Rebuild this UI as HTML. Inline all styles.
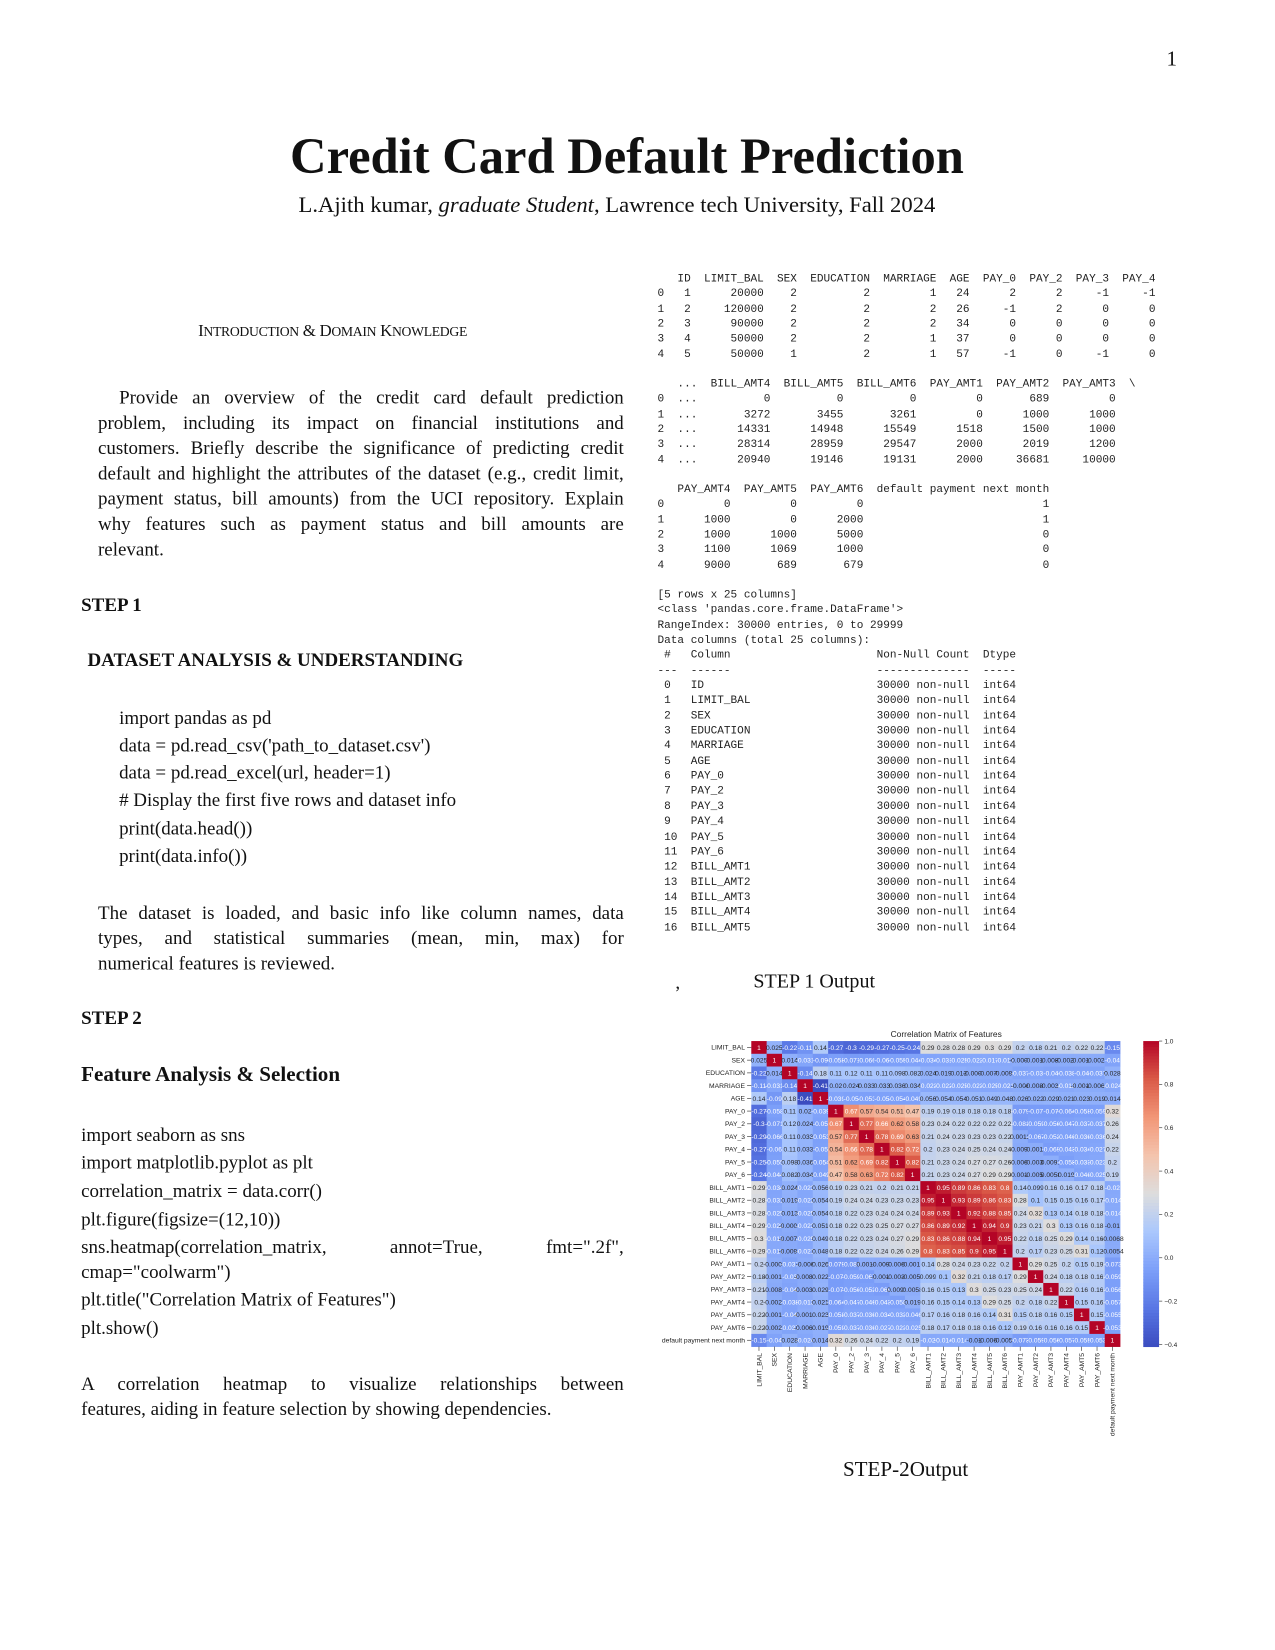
<!DOCTYPE html>
<html><head><meta charset="utf-8">
<style>
html,body{margin:0;padding:0;background:#fff;}
body{width:1275px;height:1650px;overflow:hidden;position:relative;}
#page{position:absolute;left:0;top:0;width:1210px;height:1566px;transform:scale(1.0537);transform-origin:0 0;font-family:"Liberation Serif",serif;color:#111;}
.t{position:absolute;white-space:nowrap;}
.j{position:absolute;text-align:justify;text-align-last:justify;white-space:nowrap;font-size:18px;line-height:24px;}
.body{font-size:18px;line-height:24px;}
pre{position:absolute;margin:0;font-family:"Liberation Mono",monospace;font-size:10.5px;line-height:14.35px;color:#222;}
</style></head>
<body>
<div id="page">
<div class="t" style="left:1107px;top:45px;font-size:20px;">1</div>
<div class="t" style="left:0;width:1190px;text-align:center;top:121px;font-size:48px;font-weight:bold;">Credit Card Default Prediction</div>
<div class="t" style="left:0;width:1171px;text-align:center;top:182px;font-size:21.5px;">L.Ajith kumar, <i>graduate Student</i>, Lawrence tech University, Fall 2024</div>

<div class="t" style="left:188px;top:306px;font-size:16px;letter-spacing:-0.3px;">I<span style="font-size:13px">NTRODUCTION</span> &amp; D<span style="font-size:13px">OMAIN</span> K<span style="font-size:13px">NOWLEDGE</span></div>

<div>
<div class="j" style="left:113px;width:479px;top:365px;">Provide an overview of the credit card default prediction</div>
<div class="j" style="left:93px;width:499px;top:389px;">problem, including its impact on financial institutions and</div>
<div class="j" style="left:93px;width:499px;top:413px;">customers. Briefly describe the significance of predicting credit</div>
<div class="j" style="left:93px;width:499px;top:437px;">default and highlight the attributes of the dataset (e.g., credit limit,</div>
<div class="j" style="left:93px;width:499px;top:461px;">payment status, bill amounts) from the UCI repository. Explain</div>
<div class="j" style="left:93px;width:499px;top:485px;">why features such as payment status and bill amounts are</div>
<div class="t body" style="left:93px;top:509px;">relevant.</div>
</div>

<div class="t body" style="left:77px;top:562px;font-weight:bold;">STEP 1</div>
<div class="t body" style="left:83px;top:614px;font-weight:bold;">DATASET ANALYSIS &amp; UNDERSTANDING</div>

<div class="body">
<div class="t" style="left:113px;top:669px;">import pandas as pd</div>
<div class="t" style="left:113px;top:695px;">data = pd.read_csv('path_to_dataset.csv')</div>
<div class="t" style="left:113px;top:721px;">data = pd.read_excel(url, header=1)</div>
<div class="t" style="left:113px;top:747px;"># Display the first five rows and dataset info</div>
<div class="t" style="left:113px;top:774px;">print(data.head())</div>
<div class="t" style="left:113px;top:800px;">print(data.info())</div>
</div>

<div>
<div class="j" style="left:93px;width:499px;top:854px;">The dataset is loaded, and basic info like column names, data</div>
<div class="j" style="left:93px;width:499px;top:878px;">types, and statistical summaries (mean, min, max) for</div>
<div class="t body" style="left:93px;top:902px;">numerical features is reviewed.</div>
</div>

<div class="t body" style="left:77px;top:954px;font-weight:bold;">STEP 2</div>
<div class="t" style="left:77px;top:1009px;font-size:20px;font-weight:bold;">Feature Analysis &amp; Selection</div>

<div class="body">
<div class="t" style="left:77px;top:1065px;">import seaborn as sns</div>
<div class="t" style="left:77px;top:1091px;">import matplotlib.pyplot as plt</div>
<div class="t" style="left:77px;top:1118px;">correlation_matrix = data.corr()</div>
<div class="t" style="left:77px;top:1145px;">plt.figure(figsize=(12,10))</div>
<div class="j" style="left:77px;width:515px;top:1171px;">sns.heatmap(correlation_matrix, annot=True, fmt=".2f",</div>
<div class="t" style="left:77px;top:1195px;">cmap="coolwarm")</div>
<div class="t" style="left:77px;top:1221px;">plt.title("Correlation Matrix of Features")</div>
<div class="t" style="left:77px;top:1248px;">plt.show()</div>
</div>

<div>
<div class="j" style="left:77px;width:515px;top:1301px;">A correlation heatmap to visualize relationships between</div>
<div class="t body" style="left:77px;top:1325px;">features, aiding in feature selection by showing dependencies.</div>
</div>

<pre style="left:624px;top:258px;">   ID  LIMIT_BAL  SEX  EDUCATION  MARRIAGE  AGE  PAY_0  PAY_2  PAY_3  PAY_4
0   1      20000    2          2         1   24      2      2     -1     -1
1   2     120000    2          2         2   26     -1      2      0      0
2   3      90000    2          2         2   34      0      0      0      0
3   4      50000    2          2         1   37      0      0      0      0
4   5      50000    1          2         1   57     -1      0     -1      0</pre>
<pre style="left:624px;top:358px;">   ...  BILL_AMT4  BILL_AMT5  BILL_AMT6  PAY_AMT1  PAY_AMT2  PAY_AMT3  \
0  ...          0          0          0         0       689         0
1  ...       3272       3455       3261         0      1000      1000
2  ...      14331      14948      15549      1518      1500      1000
3  ...      28314      28959      29547      2000      2019      1200
4  ...      20940      19146      19131      2000     36681     10000</pre>
<pre style="left:624px;top:458px;">   PAY_AMT4  PAY_AMT5  PAY_AMT6  default payment next month
0         0         0         0                           1
1      1000         0      2000                           1
2      1000      1000      5000                           0
3      1100      1069      1000                           0
4      9000       689       679                           0</pre>
<pre style="left:624px;top:558px;">[5 rows x 25 columns]
&lt;class 'pandas.core.frame.DataFrame'&gt;
RangeIndex: 30000 entries, 0 to 29999
Data columns (total 25 columns):
 #   Column                      Non-Null Count  Dtype
---  ------                      --------------  -----
 0   ID                          30000 non-null  int64
 1   LIMIT_BAL                   30000 non-null  int64
 2   SEX                         30000 non-null  int64
 3   EDUCATION                   30000 non-null  int64
 4   MARRIAGE                    30000 non-null  int64
 5   AGE                         30000 non-null  int64
 6   PAY_0                       30000 non-null  int64
 7   PAY_2                       30000 non-null  int64
 8   PAY_3                       30000 non-null  int64
 9   PAY_4                       30000 non-null  int64
 10  PAY_5                       30000 non-null  int64
 11  PAY_6                       30000 non-null  int64
 12  BILL_AMT1                   30000 non-null  int64
 13  BILL_AMT2                   30000 non-null  int64
 14  BILL_AMT3                   30000 non-null  int64
 15  BILL_AMT4                   30000 non-null  int64
 16  BILL_AMT5                   30000 non-null  int64</pre>

<div class="t" style="left:641px;top:922px;font-size:18px;">,</div>
<div class="t" style="left:715px;top:921px;font-size:19px;">STEP 1 Output</div>
<div class="t" style="left:800px;top:1384px;font-size:20px;">STEP-2Output</div>

<svg id="hm" width="1210" height="1566" style="position:absolute;left:0;top:0;" xmlns="http://www.w3.org/2000/svg" font-family="Liberation Sans, DejaVu Sans, sans-serif"></svg>
</div>

<script>
const labels = ["LIMIT_BAL","SEX","EDUCATION","MARRIAGE","AGE","PAY_0","PAY_2","PAY_3","PAY_4","PAY_5","PAY_6","BILL_AMT1","BILL_AMT2","BILL_AMT3","BILL_AMT4","BILL_AMT5","BILL_AMT6","PAY_AMT1","PAY_AMT2","PAY_AMT3","PAY_AMT4","PAY_AMT5","PAY_AMT6","default payment next month"];
// upper triangle rows, starting at the diagonal
const corrRows = [
[1,.025,-.22,-.11,.14,-.27,-.3,-.29,-.27,-.25,-.24,.29,.28,.28,.29,.3,.29,.2,.18,.21,.2,.22,.22,-.15],
[1,.014,-.031,-.09,-.058,-.071,-.066,-.06,-.055,-.044,-.034,-.031,-.025,-.022,-.017,-.017,-.0002,-.0014,-.0086,-.0022,-.0017,-.0028,-.04],
[1,-.14,.18,.11,.12,.11,.11,.098,.082,.024,.019,.013,-.0004,-.0076,-.0091,-.037,-.03,-.04,-.038,-.04,-.037,.028],
[1,-.41,.02,.024,.033,.033,.036,.034,-.023,-.022,-.025,-.023,-.025,-.021,-.006,-.0081,-.0035,-.013,-.0012,-.0066,-.024],
[1,-.039,-.05,-.053,-.05,-.054,-.049,.056,.054,.054,.051,.049,.048,.026,.022,.029,.021,.023,.019,.014],
[1,.67,.57,.54,.51,.47,.19,.19,.18,.18,.18,.18,-.079,-.07,-.07,-.064,-.058,-.059,.32],
[1,.77,.66,.62,.58,.23,.24,.22,.22,.22,.22,-.081,-.059,-.056,-.047,-.037,-.037,.26],
[1,.78,.69,.63,.21,.24,.23,.23,.23,.22,.0013,-.067,-.053,-.046,-.036,-.036,.24],
[1,.82,.72,.2,.23,.24,.25,.24,.24,-.0094,-.0019,-.069,-.043,-.034,-.027,.22],
[1,.82,.21,.23,.24,.27,.27,.26,-.0061,-.0032,.0091,-.058,-.033,-.023,.2],
[1,.21,.23,.24,.27,.29,.29,-.0015,-.0052,.0058,.019,-.046,-.025,.19],
[1,.95,.89,.86,.83,.8,.14,.099,.16,.16,.17,.18,-.02],
[1,.93,.89,.86,.83,.28,.1,.15,.15,.16,.17,-.014],
[1,.92,.88,.85,.24,.32,.13,.14,.18,.18,-.014],
[1,.94,.9,.23,.21,.3,.13,.16,.18,-.01],
[1,.95,.22,.18,.25,.29,.14,.16,-.0068],
[1,.2,.17,.23,.25,.31,.12,-.0054],
[1,.29,.25,.2,.15,.19,-.073],
[1,.24,.18,.18,.16,-.059],
[1,.22,.16,.16,-.056],
[1,.15,.16,-.057],
[1,.15,-.055],
[1,-.053],
[1]
];
const cbarTicks = [1.0,0.8,0.6,0.4,0.2,0.0,-0.2,-0.4];
const vMin = -0.41, vMax = 1.0;

const NS = "http://www.w3.org/2000/svg";
const svg = document.getElementById('hm');
const gx0 = 713, gx1 = 1063, gy0 = 988, gy1 = 1278;
const n = labels.length;
const cw = (gx1-gx0)/n, ch = (gy1-gy0)/n;
const xPos = i => gx0 + i*cw;
const yPos = i => gy0 + i*ch;
const cy = v => gy0 + (vMax - v)/(vMax - vMin)*(gy1-gy0);
const stops = [[0,[59,76,192]],[.125,[88,118,228]],[.25,[124,159,249]],[.375,[170,199,253]],[.5,[221,221,221]],[.625,[244,196,173]],[.75,[242,150,119]],[.875,[218,90,71]],[1,[180,4,38]]];
function cmap(v){
  let t = Math.max(0,Math.min(1,(v-vMin)/(vMax-vMin)));
  for(let k=1;k<stops.length;k++){ if(t<=stops[k][0]){ const a=stops[k-1],b=stops[k]; const f=(t-a[0])/(b[0]-a[0]); return a[1].map((c,j)=>Math.round(c+(b[1][j]-c)*f)); } }
  return stops[stops.length-1][1];
}
function lum(c){ const l=c.map(x=>{x/=255;return x<=0.03928?x/12.92:Math.pow((x+0.055)/1.055,2.4);}); return 0.2126*l[0]+0.7152*l[1]+0.0722*l[2]; }
function el(tag, attrs, txt){ const e=document.createElementNS(NS,tag); for(const k in attrs) e.setAttribute(k,attrs[k]); if(txt!==undefined) e.textContent=txt; svg.appendChild(e); return e; }
function val(i,j){ return i<=j ? corrRows[i][j-i] : corrRows[j][i-j]; }
function fmt(v){ return String(parseFloat(v.toPrecision(2))); }

const title = el('text',{x:(gx0+gx1)/2+10,y:984,'font-size':8,'text-anchor':'middle',fill:'#222'},'Correlation Matrix of Features');



for(let i=0;i<n;i++){
  for(let j=0;j<n;j++){
    const v = val(i,j), c = cmap(v);
    const r = el('rect',{x:xPos(j),y:yPos(i),width:cw+0.3,height:ch+0.3,fill:`rgb(${c[0]},${c[1]},${c[2]})`});
    
    
    const t = el('text',{x:xPos(j)+cw/2,y:yPos(i)+ch/2+2.3,'font-size':6.3,'text-anchor':'middle',fill: lum(c)<0.408?'#fff':'#262626'},fmt(v));
    
    
  }
}
for(let i=0;i<n;i++){
  const yl = el('text',{x:gx0-6,y:yPos(i)+ch/2+2.2,'font-size':6.4,'text-anchor':'end',fill:'#222'},labels[i]);
  
  
  el('line',{x1:gx0-4,x2:gx0,y1:yPos(i)+ch/2,y2:yPos(i)+ch/2,stroke:'#333','stroke-width':0.6});
  const xc = xPos(i)+cw/2;
  el('line',{x1:xc,x2:xc,y1:gy1,y2:gy1+4,stroke:'#333','stroke-width':0.6});
  const xl = el('text',{x:xc+2.2,y:gy1+6,'font-size':6.4,'text-anchor':'end',fill:'#222',transform:`rotate(-90 ${xc+2.2} ${gy1+6})`},labels[i]);
  
  
}
// colorbar
const cbx = 1085, cbw = 15;
for(let k=0;k<100;k++){
  const v0 = vMax - (vMax-vMin)*k/100, v1 = vMax - (vMax-vMin)*(k+1)/100;
  const c = cmap((v0+v1)/2);
  const r = el('rect',{x:cbx,y:cy(v0),width:cbw,height:cy(v1)-cy(v0)+0.4,fill:`rgb(${c[0]},${c[1]},${c[2]})`});
  
  
}
cbarTicks.forEach(tv=>{
  const y = cy(tv);
  el('line',{x1:cbx+cbw,x2:cbx+cbw+3,y1:y,y2:y,stroke:'#333','stroke-width':0.6});
  const t = el('text',{x:cbx+cbw+5,y:y+2.2,'font-size':6.2,fill:'#222'},tv<0?'\u2212'+Math.abs(tv).toFixed(1):tv.toFixed(1));
  
  
});
</script>
</body></html>
